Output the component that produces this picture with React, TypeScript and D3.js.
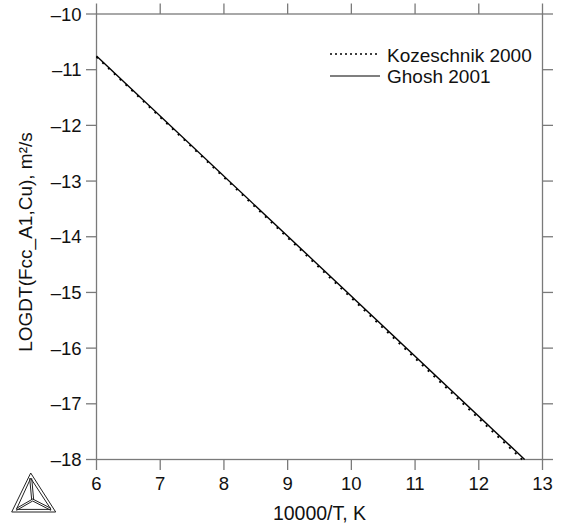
import React from "react";
import * as d3 from "d3";

const xTicks = [6, 7, 8, 9, 10, 11, 12, 13];
const yTicks = [-10, -11, -12, -13, -14, -15, -16, -17, -18];
const seriesNames = ["Kozeschnik 2000", "Ghosh 2001"];
const kozX = [6, 12.68];
const kozY = [-10.77, -18];
const ghoshX = [6, 12.72];
const ghoshY = [-10.755, -18];
const xLabel = "10000/T, K";
const yLabel = "LOGDT(Fcc_A1,Cu), m²/s";

const W = 563;
const H = 526;
const L = 96.5;
const R = 542.5;
const T = 14;
const B = 459.5;
const FONT = "'Liberation Sans', Arial, Helvetica, sans-serif";
const AX = "#7a7a7a";

export default function App() {
  const x = d3.scaleLinear().domain([6, 13]).range([L, R]);
  const y = d3.scaleLinear().domain([-18, -10]).range([B, T]);
  const line = d3
    .line<[number, number]>()
    .x((d) => x(d[0]))
    .y((d) => y(d[1]));
  const koz: [number, number][] = kozX.map((v, i) => [v, kozY[i]]);
  const ghosh: [number, number][] = ghoshX.map((v, i) => [v, ghoshY[i]]);

  // logo geometry
  const ax = 30.7, ay = 473, bl = 11.7, br = 55.7, by = 512;
  const cx = (bl + br + ax) / 3;
  const cy = (ay + 2 * by) / 3 + 1;
  const inset = 2.6;

  return (
    <svg
      width={W}
      height={H}
      style={{ position: "absolute", left: 0, top: 0, background: "#fff" }}
      fontFamily={FONT}
    >
      <rect x={0} y={0} width={W} height={H} fill="#fff" />
      {/* frame */}
      <rect x={L} y={T} width={R - L} height={B - T} fill="none" stroke={AX} strokeWidth={1.3} />
      {/* x ticks */}
      {xTicks.map((t) => (
        <g key={"x" + t}>
          <line x1={x(t)} x2={x(t)} y1={B} y2={B + 10.5} stroke={AX} strokeWidth={1.3} />
          <line x1={x(t)} x2={x(t)} y1={T} y2={T - 10.5} stroke={AX} strokeWidth={1.3} />
          <text x={x(t)} y={490} textAnchor="middle" fontSize={18.5} fill="#111">
            {t}
          </text>
        </g>
      ))}
      {yTicks.map((t) => (
        <g key={"y" + t}>
          <line x1={L} x2={L - 10.5} y1={y(t)} y2={y(t)} stroke={AX} strokeWidth={1.3} />
          <line x1={R} x2={R + 10.5} y1={y(t)} y2={y(t)} stroke={AX} strokeWidth={1.3} />
          <text x={81.5} y={y(t) + 6.5} textAnchor="end" fontSize={18.5} fill="#111">
            {t < 0 ? "\u2013" + Math.abs(t) : t}
          </text>
        </g>
      ))}
      {/* axis labels */}
      <text x={(L + R) / 2} y={520} textAnchor="middle" fontSize={19.5} fill="#111">
        {xLabel}
      </text>
      <text
        transform={`translate(32, 242) rotate(-90)`}
        textAnchor="middle"
        fontSize={19}
        fill="#111"
      >
        {yLabel}
      </text>
      {/* data */}
      <path d={line(ghosh) || ""} fill="none" stroke="#000" strokeWidth={1.4} />
      <path
        d={line(koz) || ""}
        fill="none"
        stroke="#000"
        strokeWidth={1.8}
        strokeDasharray="2,6"
      />
      {/* legend */}
      <line x1={330} x2={380} y1={54} y2={54} stroke="#000" strokeWidth={1.3} strokeDasharray="2,3" />
      <text x={387} y={61.5} fontSize={19} fill="#111">
        {seriesNames[0]}
      </text>
      <line x1={330} x2={380} y1={76} y2={76} stroke="#000" strokeWidth={1.2} />
      <text x={387} y={83} fontSize={19} fill="#111">
        {seriesNames[1]}
      </text>
      {/* logo */}
      <g fill="none" stroke="#222" strokeWidth={1}>
        <polygon points={`${ax},${ay} ${bl},${by} ${br},${by}`} />
        <polygon
          points={`${ax},${ay + inset * 2} ${bl + inset * 1.8},${by - inset} ${br - inset * 1.8},${by - inset}`}
        />
        <line x1={cx - 1} y1={cy} x2={ax - 1} y2={ay + inset * 2} />
        <line x1={cx + 1} y1={cy} x2={ax + 1} y2={ay + inset * 2} />
        <line x1={cx} y1={cy - 1} x2={bl + inset * 1.8} y2={by - inset - 1} />
        <line x1={cx} y1={cy + 1} x2={bl + inset * 1.8} y2={by - inset + 1} />
        <line x1={cx} y1={cy - 1} x2={br - inset * 1.8} y2={by - inset - 1} />
        <line x1={cx} y1={cy + 1} x2={br - inset * 1.8} y2={by - inset + 1} />
      </g>
    </svg>
  );
}
